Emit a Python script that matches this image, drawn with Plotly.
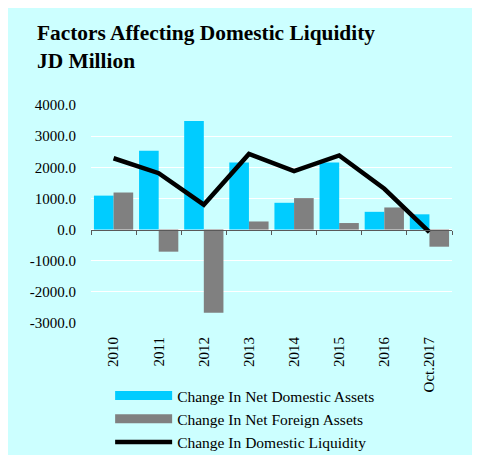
import plotly.graph_objects as go

# data (JD million)
years = ["2010", "2011", "2012", "2013", "2014", "2015", "2016", "Oct.2017"]
net_domestic = [1090, 2530, 3490, 2150, 860, 2150, 570, 490]
net_foreign = [1190, -710, -2670, 260, 1010, 210, 710, -550]
liquidity = [2290, 1810, 800, 2430, 1880, 2380, 1310, -80]

y_ticks = [-3000, -2000, -1000, 0, 1000, 2000, 3000, 4000]
y_tick_text = ["-3000.0", "-2000.0", "-1000.0", "0.0", "1000.0", "2000.0", "3000.0", "4000.0"]

BLUE = "#00CCFF"
GREY = "#808080"
BG = "#CCFFFF"
FONT = "Liberation Serif"

fig = go.Figure()

# bars (legend shown through wide line stand-ins below)
fig.add_trace(go.Bar(x=years, y=net_domestic, marker=dict(color=BLUE, line=dict(width=0)),
                     name="Change In Net Domestic Assets", showlegend=False))
fig.add_trace(go.Bar(x=years, y=net_foreign, marker=dict(color=GREY, line=dict(width=0)),
                     name="Change In Net Foreign Assets", showlegend=False))
fig.add_trace(go.Scatter(x=years, y=liquidity, mode="lines", xaxis="x2",
                         line=dict(color="black", width=4.5),
                         name="Change In Domestic Liquidity", showlegend=False))

# legend entries
fig.add_trace(go.Scatter(x=[None], y=[None], mode="lines", line=dict(color=BLUE, width=9),
                         name="Change In Net Domestic Assets"))
fig.add_trace(go.Scatter(x=[None], y=[None], mode="lines", line=dict(color=GREY, width=9),
                         name="Change In Net Foreign Assets"))
fig.add_trace(go.Scatter(x=[None], y=[None], mode="lines", line=dict(color="black", width=4.5),
                         name="Change In Domestic Liquidity"))

fig.update_layout(
    width=480, height=455,
    margin=dict(l=83, r=36, t=97, b=140, autoexpand=False),
    paper_bgcolor=BG,
    plot_bgcolor=BG,
    font=dict(family=FONT, size=15, color="black"),
    title=dict(text="<b>Factors Affecting Domestic Liquidity<br>JD Million</b>",
               x=0.0604, xanchor="left", y=0.929, yanchor="top",
               font=dict(family=FONT, size=21.4, color="black")),
    barmode="group", bargap=0.13, bargroupgap=0,
    showlegend=True,
    legend=dict(x=0.053, xanchor="left", y=-0.257, yanchor="top",
                bgcolor="rgba(0,0,0,0)", font=dict(family=FONT, size=15.5, color="black"),
                itemwidth=57, tracegroupgap=0),
    xaxis=dict(type="category", range=[-0.5, 7.5], showgrid=False, zeroline=False,
               showline=False, tickangle=-90, ticks="outside", ticklen=7,
               tickcolor="rgba(0,0,0,0)", tickfont=dict(family=FONT, size=15, color="black")),
    xaxis2=dict(type="category", range=[-0.5, 7.5], overlaying="x", anchor="free",
                position=3 / 7, side="bottom", showgrid=False, zeroline=False,
                showline=True, linecolor="#595959", linewidth=1,
                ticks="outside", tickson="boundaries", ticklen=4, tickcolor="#595959",
                showticklabels=False),
    yaxis=dict(range=[-3000, 4000], tickvals=y_ticks, ticktext=y_tick_text,
               showgrid=True, gridcolor="white", gridwidth=1, zeroline=False,
               showline=False, ticklabelstandoff=14,
               tickfont=dict(family=FONT, size=15, color="black")),
)

fig.write_html("out.html")
